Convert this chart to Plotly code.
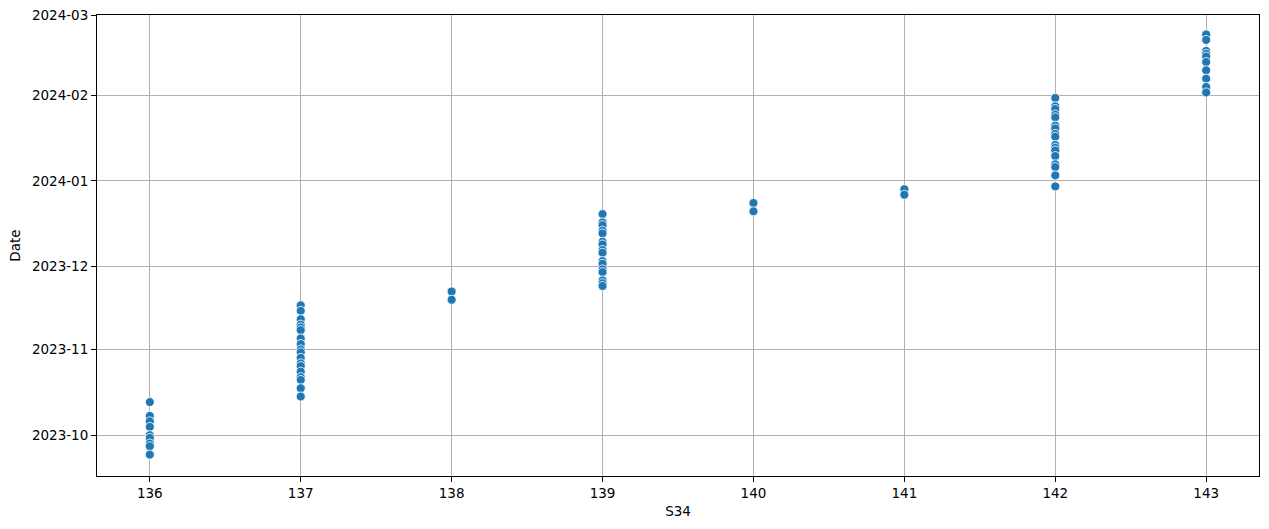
import plotly.graph_objects as go

s34_136 = ["2023-10-13", "2023-10-08", "2023-10-06", "2023-10-04", "2023-10-01", "2023-09-30", "2023-09-28", "2023-09-27", "2023-09-24"]
s34_137 = ["2023-11-17", "2023-11-15", "2023-11-12", "2023-11-10", "2023-11-09", "2023-11-08", "2023-11-05", "2023-11-03", "2023-11-01",
           "2023-10-31", "2023-10-29", "2023-10-27", "2023-10-26", "2023-10-24", "2023-10-22", "2023-10-21", "2023-10-18", "2023-10-15"]
s34_138 = ["2023-11-22", "2023-11-19"]
s34_139 = ["2023-12-20", "2023-12-17", "2023-12-16", "2023-12-14", "2023-12-13", "2023-12-10", "2023-12-09", "2023-12-07", "2023-12-06",
           "2023-12-03", "2023-12-02", "2023-11-30", "2023-11-29", "2023-11-26", "2023-11-25", "2023-11-24"]
s34_140 = ["2023-12-24", "2023-12-21"]
s34_141 = ["2023-12-29", "2023-12-27"]
s34_142 = ["2024-01-31", "2024-01-28", "2024-01-27", "2024-01-25", "2024-01-24", "2024-01-21", "2024-01-20", "2024-01-18", "2024-01-17",
           "2024-01-14", "2024-01-13", "2024-01-12", "2024-01-10", "2024-01-07", "2024-01-06", "2024-01-03", "2023-12-30"]
s34_143 = ["2024-02-23", "2024-02-21", "2024-02-17", "2024-02-16", "2024-02-15", "2024-02-13", "2024-02-10", "2024-02-07", "2024-02-04", "2024-02-02"]

groups = {136: s34_136, 137: s34_137, 138: s34_138, 139: s34_139,
          140: s34_140, 141: s34_141, 142: s34_142, 143: s34_143}

xs, ys = [], []
for k, dates in groups.items():
    for d in dates:
        xs.append(k)
        ys.append(d)

fig = go.Figure(go.Scatter(
    x=xs, y=ys, mode="markers",
    marker=dict(color="#1f77b4", size=9, line=dict(color="white", width=0.8)),
    showlegend=False,
))

axis_common = dict(
    showline=True, linecolor="black", linewidth=1, mirror=True,
    ticks="outside", ticklen=5, tickcolor="black", tickwidth=1,
    showgrid=True, gridcolor="#b0b0b0", gridwidth=0.8, zeroline=False,
    automargin=False,
    tickfont=dict(family="DejaVu Sans", size=13.5, color="black"),
)

fig.update_layout(
    width=1269, height=529,
    margin=dict(l=97, r=10, t=15, b=53),
    paper_bgcolor="white", plot_bgcolor="white",
    font=dict(family="DejaVu Sans", size=13.5, color="black"),
    xaxis=dict(range=[135.65, 143.35], dtick=1, tick0=136,
               title=dict(text="S34", font=dict(size=13.5), standoff=6), **axis_common),
    yaxis=dict(type="date", range=["2023-09-16 06:00", "2024-03-01 00:30"], dtick="M1",
               tick0="2023-10-01", tickformat="%Y-%m",
               title=dict(text="Date", font=dict(size=13.5), standoff=8), **axis_common),
)

fig.write_html(
    "out.html",
    config={"displayModeBar": False},
    post_script="document.body.style.margin='0px'; document.body.style.overflow='hidden';",
)
